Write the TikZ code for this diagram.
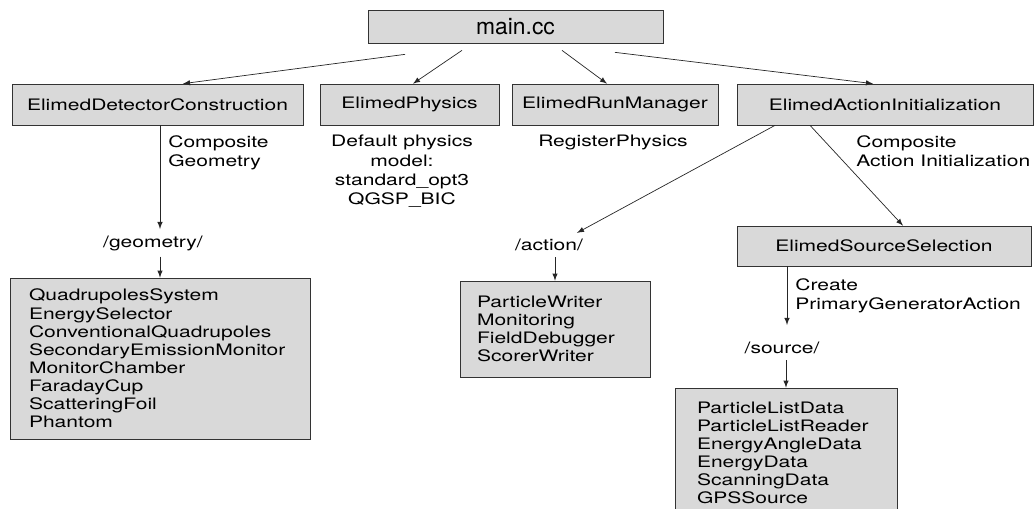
\documentclass[tikz,border=0pt]{standalone}
\usepackage{fontspec}
\setmainfont[FakeStretch=1.33]{TeX Gyre Heros}
\newfontfamily\titlefont{TeX Gyre Heros}
\usetikzlibrary{arrows}

\begin{document}
\begin{tikzpicture}[
	x=0.02cm, y=-0.02cm,
	font=\fontsize{9}{10.3}\selectfont,
	cls/.style={rectangle,draw=black!80,fill=black!15,thin,
	inner sep=0pt,minimum height=0.82cm},
	list/.style={cls,align=left,inner xsep=0.38cm},
	lbl/.style={inner sep=0pt,align=left,anchor=north west,
	font=\fontsize{9}{11}\selectfont},
	call/.style={>=latex,draw=black!85,thin,->}
	]
	\useasboundingbox (0,0) rectangle (1035,508);
	% top level
	\node[cls, minimum width=5.9cm, minimum height=0.66cm,
		font=\titlefont\fontsize{13}{15}\selectfont] (main) at (515.5,26.5) {main.cc};
	\node[cls, minimum width=5.82cm] (det) at (157.5,104.5) {ElimedDetectorConstruction};
	\node[cls, minimum width=3.58cm] (phys) at (409.5,104.5) {ElimedPhysics};
	\node[cls, minimum width=4.12cm] (run) at (615,104.5) {ElimedRunManager};
	\node[cls, minimum width=5.92cm] (act) at (885,104.5) {ElimedActionInitialization};
	\node[cls, minimum width=5.88cm, minimum height=0.8cm] (src) at (884,246) {ElimedSourceSelection};
	% notes
	\node[lbl] (detnote) at (168,135) {Composite\\Geometry};
	\node[lbl, anchor=north, align=center] (physnote) at (402,135)
		{Default physics\\model:\\standard\_opt3\\QGSP\_BIC};
	\node[lbl, anchor=north] (runnote) at (613,135) {RegisterPhysics};
	\node[lbl] (actnote) at (856,135) {Composite\\Action Initialization};
	\node[lbl] (srcnote) at (795,278) {Create\\PrimaryGeneratorAction};
	% directories
	\node (geodir) at (153,243) {/geometry/};
	\node (actdir) at (549,245) {/action/};
	\node (srcdir) at (782,348) {/source/};
	\coordinate (geotip) at (160,229);
	\coordinate (srctip) at (787,325);
	% class lists
	\node[list, text width=5.24cm, minimum height=3.22cm] (geobox) at (160,358.5)
		{QuadrupolesSystem\\EnergySelector\\ConventionalQuadrupoles\\SecondaryEmissionMonitor\\MonitorChamber\\FaradayCup\\ScatteringFoil\\Phantom};
	\node[list, inner xsep=0.34cm, text width=3.12cm, minimum height=1.92cm] (actbox) at (555,329)
		{ParticleWriter\\Monitoring\\FieldDebugger\\ScorerWriter};
	\node[list, inner xsep=0.44cm, text width=3.56cm, minimum height=2.6cm] (srcbox) at (786,453)
		{ParticleListData\\ParticleListReader\\EnergyAngleData\\EnergyData\\ScanningData\\GPSSource};
	% calls
	\draw[call] ([xshift=-2.21cm,yshift=-0.22cm]main.south) -- ([xshift=0.51cm]det.north);
	\draw[call] ([xshift=-1.07cm,yshift=-0.14cm]main.south) -- ([xshift=0.07cm]phys.north);
	\draw[call] ([xshift=0.93cm,yshift=-0.14cm]main.south) -- ([xshift=-0.16cm]run.north);
	\draw[call] ([xshift=1.99cm,yshift=-0.18cm]main.south) -- ([xshift=-0.24cm]act.north);
	\draw[call] (det.south -| geotip) -- (geotip);
	\draw[call] (geodir.south -| geobox.north) -- (geobox.north);
	\draw[call] ([xshift=-2.2cm]act.south) -- ([xshift=0.56cm]actdir.north);
	\draw[call] (actdir.south -| actbox.north) -- (actbox.north);
	\draw[call] ([xshift=-1.5cm]act.south) -- ([xshift=0.38cm]src.north);
	\draw[call] (src.south -| srctip) -- (srctip);
	\draw[call] (srcdir.south -| srcbox.north) -- (srcbox.north);
\end{tikzpicture}
\end{document}
